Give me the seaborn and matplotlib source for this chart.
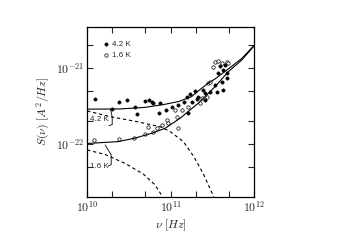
import numpy as np
import matplotlib
matplotlib.use("Agg")
import matplotlib.pyplot as plt
import matplotlib.ticker as mticker
import seaborn as sns
import pandas as pd

# measured spectra, nu in Hz, S in units of 1e-22 A^2/Hz
nu_42 = [1.25e10, 2.40e10, 3.01e10, 4.91e10, 5.48e10, 1.99e10, 3.79e10, 3.97e10,
         5.96e10, 6.22e10, 7.48e10, 7.28e10, 8.76e10, 1.03e11, 1.24e11, 1.46e11,
         1.56e11, 1.71e11, 1.96e11, 1.79e11, 2.06e11, 1.63e11, 3.92e11, 4.50e11,
         4.29e11, 4.71e11, 3.74e11, 4.71e11, 4.10e11, 4.29e11, 3.41e11, 3.57e11,
         2.97e11, 2.59e11, 2.47e11, 2.15e11, 2.59e11]
s_42 = [3.86, 3.60, 3.75, 3.64, 3.82, 2.88, 3.09, 2.50,
        3.60, 3.43, 3.43, 2.53, 2.79, 3.09, 3.25, 3.60,
        4.19, 4.54, 5.02, 3.60, 3.86, 2.53, 10.6, 10.9,
        9.4, 8.5, 8.5, 7.31, 6.6, 5.13, 5.97, 4.87,
        4.87, 4.64, 5.13, 4.19, 3.78]

nu_16 = [1.21e10, 2.44e10, 3.62e10, 4.99e10, 5.33e10, 6.22e10, 6.84e10, 7.85e10,
         9.0e10, 9.41e10, 1.13e11, 1.19e11, 1.24e11, 1.36e11, 1.63e11, 2.26e11,
         2.36e11, 2.71e11, 2.84e11, 2.97e11, 3.26e11, 3.41e11, 3.74e11, 4.10e11,
         4.71e11, 4.92e11]
s_16 = [1.13, 1.16, 1.21, 1.34, 1.67, 1.45, 1.60, 1.77,
        2.07, 1.87, 2.79, 2.28, 1.60, 2.79, 3.09, 3.43,
        3.99, 4.19, 6.28, 6.6, 10.4, 12.1, 12.4, 11.5,
        12.1, 11.5]

# fitted curves (solid = total, dashed = white-noise part)
fit_nu_42 = [1e10, 2.48e10, 4.95e10, 8.59e10, 1.24e11, 1.79e11, 2.15e11, 2.74e11,
             3.41e11, 4.92e11, 7.12e11, 1e12]
fit_s_42 = [2.86, 2.88, 3.02, 3.32, 3.60, 4.19, 4.98, 6.15, 7.16, 9.70, 13.3, 19.8]
fit_nu_16 = [1e10, 2.37e10, 3.76e10, 5.96e10, 8.59e10, 1.13e11, 1.30e11, 1.71e11,
             2.15e11, 3.41e11, 4.92e11, 7.12e11, 1e12]
fit_s_16 = [1.01, 1.07, 1.19, 1.38, 1.60, 1.96, 2.17, 2.79, 3.43, 5.66, 8.93, 12.7, 19.5]
white_nu_42 = [1e10, 1.886e10, 3.94e10, 7.48e10, 9.86e10, 1.42e11, 1.88e11, 2.47e11,
               3.11e11, 3.27e11]
white_s_42 = [2.71, 2.28, 1.96, 1.68, 1.45, 1.07, 0.69, 0.401, 0.229, 0.200]
white_nu_16 = [1e10, 1.64e10, 2.85e10, 4.69e10, 6.52e10, 8.02e10]
white_s_16 = [0.83, 0.724, 0.552, 0.401, 0.287, 0.200]

x_major = [1e10, 1e11, 1e12]
x_minor = [2e10, 5e10, 2e11, 5e11]
y_major = [1e-22, 1e-21]
y_minor = [5e-23, 2e-22, 5e-22, 2e-21]

scale = 1e-22

sns.set_theme(style="ticks")
plt.rcParams["mathtext.fontset"] = "cm"
plt.rcParams["font.family"] = ["Liberation Sans", "DejaVu Sans"]

fig = plt.figure(figsize=(3.5, 2.49), dpi=100)
ax = fig.add_axes([0.249, 0.209, 0.477, 0.683])

df42 = pd.DataFrame({"nu": nu_42, "S": np.array(s_42) * scale})
df16 = pd.DataFrame({"nu": nu_16, "S": np.array(s_16) * scale})

for nu, s, ls in [(fit_nu_42, fit_s_42, "-"), (fit_nu_16, fit_s_16, "-"),
                  (white_nu_42, white_s_42, (0, (3, 2.5))),
                  (white_nu_16, white_s_16, (0, (3, 2.5)))]:
    d = pd.DataFrame({"nu": nu, "S": np.array(s) * scale})
    sns.lineplot(data=d, x="nu", y="S", ax=ax, color="black", lw=0.8,
                 linestyle=ls, estimator=None, sort=False)

sns.scatterplot(data=df42, x="nu", y="S", ax=ax, marker="o", s=6,
                color="black", edgecolor="black", linewidth=0.3, label="4.2 K")
sns.scatterplot(data=df16, x="nu", y="S", ax=ax, marker="o", s=6,
                facecolor="white", edgecolor="black", linewidth=0.5, label="1.6 K")

ax.set_xscale("log")
ax.set_yscale("log")
ax.set_xlim(1e10, 1e12)
ax.set_ylim(10 ** -22.70, 10 ** -20.46)

fmt = mticker.FuncFormatter(lambda v, _: r"$10^{%d}$" % int(round(np.log10(v))))
ax.xaxis.set_major_locator(mticker.FixedLocator(x_major))
ax.xaxis.set_minor_locator(mticker.FixedLocator(x_minor))
ax.yaxis.set_major_locator(mticker.FixedLocator(y_major))
ax.yaxis.set_minor_locator(mticker.FixedLocator(y_minor))
for axis in (ax.xaxis, ax.yaxis):
    axis.set_major_formatter(fmt)
    axis.set_minor_formatter(mticker.NullFormatter())

ax.tick_params(which="both", direction="in", top=True, right=True,
               width=0.8, labelsize=8.5, pad=2)
ax.tick_params(which="major", length=4.5)
ax.tick_params(which="minor", length=4)
for sp in ax.spines.values():
    sp.set_linewidth(0.9)
    sp.set_color("black")

ax.set_xlabel(r"$\nu\ [Hz]$", fontsize=8.5, labelpad=2)
ax.set_ylabel(r"$S(\nu)\ [A^2/Hz]$", fontsize=8.5, labelpad=3)

ax.legend(loc="upper left", frameon=False, fontsize=5.8, handletextpad=0.2,
          borderaxespad=0.6, labelspacing=0.5, handlelength=1.0,
          bbox_to_anchor=(0.04, 0.97))

# temperature labels with small brackets
ax.text(0.02, 0.455, "4.2 K", transform=ax.transAxes, fontsize=5.8, va="center")
ax.plot([0.14, 0.15, 0.15, 0.13], [0.515, 0.47, 0.425, 0.42],
        transform=ax.transAxes, color="black", lw=0.6)
ax.text(0.02, 0.18, "1.6 K", transform=ax.transAxes, fontsize=5.8, va="center")
ax.plot([0.108, 0.144, 0.144, 0.126], [0.306, 0.247, 0.19, 0.182],
        transform=ax.transAxes, color="black", lw=0.6)

fig.savefig("out.png", dpi=100)
